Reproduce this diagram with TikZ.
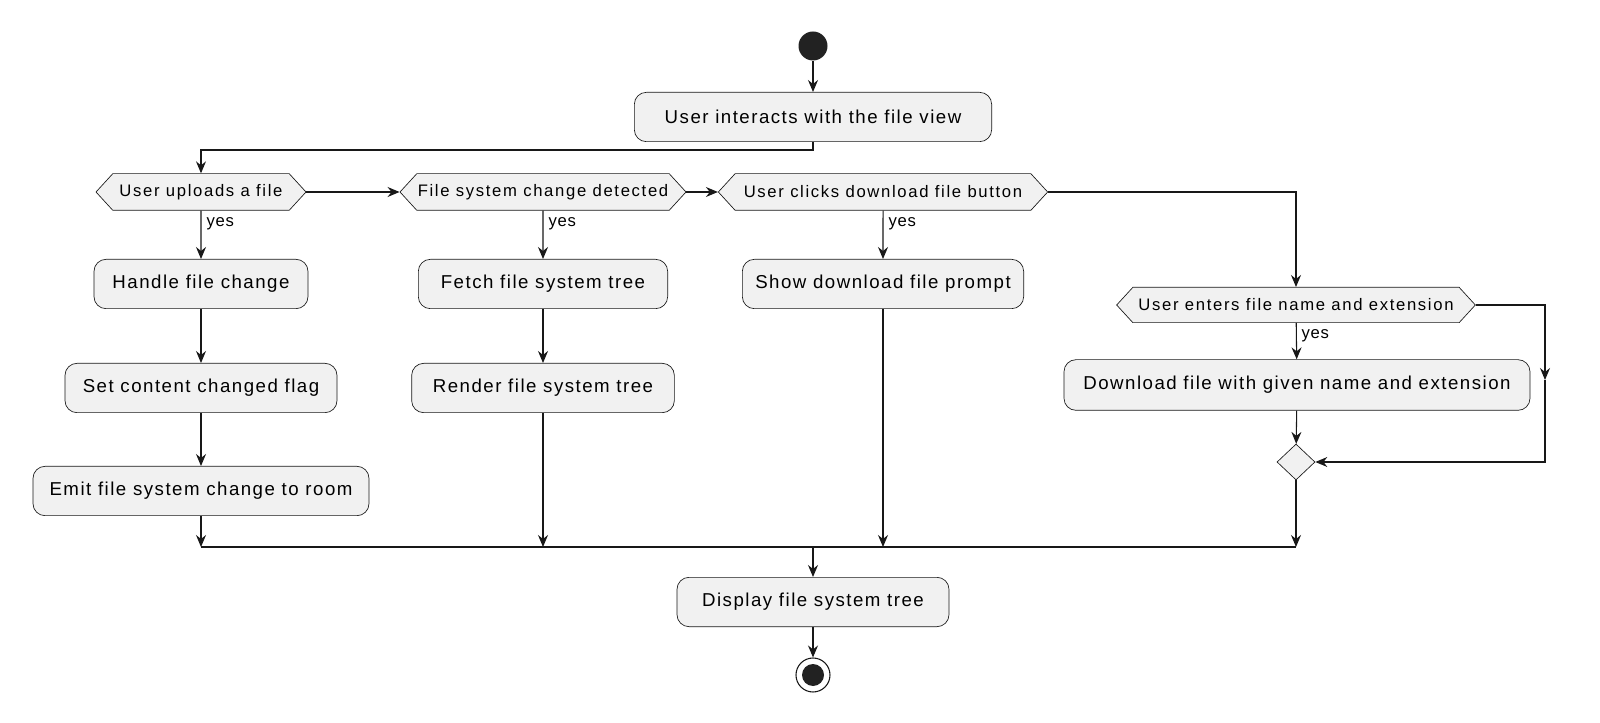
\documentclass[tikz,border=0pt]{standalone}
\usepackage{fontspec}
\setmainfont{Liberation Sans}[LetterSpace=4]
\newfontfamily\actfont{Liberation Sans}[LetterSpace=8]
\newfontfamily\choicefont{Liberation Sans}[LetterSpace=10]
\usetikzlibrary{arrows.meta,shapes.symbols,shapes.geometric}
\definecolor{actfill}{HTML}{F1F1F1}
\definecolor{actline}{HTML}{181818}
\definecolor{dotfill}{HTML}{222222}

\begin{document}
\begin{tikzpicture}[x=0.75pt,y=0.75pt,
  act/.style={draw=actline, line width=0.5pt, fill=actfill, rounded corners=9pt,
    minimum height=37pt, inner sep=0pt, font=\actfont\fontsize{14}{16}\selectfont},
  choice/.style={draw=actline, line width=0.5pt, fill=actfill, signal,
    signal to=west and east, signal pointer angle=95, minimum height=27.5pt,
    inner sep=0pt, font=\choicefont\fontsize{12.5}{14}\selectfont},
  merge/.style={draw=actline, line width=0.5pt, fill=actfill, diamond, aspect=1,
    inner sep=0pt, minimum width=28.5pt, minimum height=27pt},
  flow/.style={draw=actline, line width=0.8pt, -{Stealth[length=9pt,width=7.5pt,inset=3pt]}},
  wire/.style={draw=actline, line width=0.8pt},
  lbl/.style={font=\fontsize{12.5}{14}\selectfont, anchor=north west, inner sep=0pt}
]
\useasboundingbox (0,0) rectangle (1600,-723);
% start and first action
\node [circle, fill=dotfill, inner sep=0pt, minimum size=21.75pt] (start) at (813,-46) {};
\node [act, minimum width=268pt] (n0) at (813,-117) {User interacts with the file view};
% the three checks in a row
\node [choice, minimum width=157.5pt] (d1) at (201,-192) {User uploads a file};
\node [choice, minimum width=214.5pt] (d2) at (543,-192) {File system change detected};
\node [choice, minimum width=247pt] (d3) at (883,-192) {User clicks download file button};
\node [choice, minimum width=269pt, minimum height=26.5pt] (d4) at (1296,-305) {User enters file name and extension};
% branch actions
\node [act, minimum width=160.5pt] (a1) at (201,-284) {Handle file change};
\node [act, minimum width=204pt] (a2) at (201,-388) {Set content changed flag};
\node [act, minimum width=252pt] (a3) at (201,-491) {Emit file system change to room};
\node [act, minimum width=187pt] (b1) at (543,-284) {Fetch file system tree};
\node [act, minimum width=197pt] (b2) at (543,-388) {Render file system tree};
\node [act, minimum width=211pt] (c1) at (883,-284) {Show download file prompt};
\node [act, minimum width=349.5pt, minimum height=38pt] (e1) at (1297,-385) {Download file with given name and extension};
\node [merge] (m) at (1296,-462) {};
% end
\node [act, minimum width=204pt] (f) at (813,-602) {Display file system tree};
\node [circle, draw=actline, line width=0.8pt, fill=white, inner sep=0pt, minimum size=25.5pt] (stop) at (813,-675) {};
\fill [dotfill] (stop.center) circle (8.25pt);
% helper points
\coordinate (split) at (813,-150);
\coordinate (r1) at (1545,-305);
\coordinate (r2) at (1545,-380);
\coordinate (r3) at (1545,-462);
\coordinate (j1) at (201,-547);
\coordinate (j4) at (1296,-547);
\coordinate (jc) at (813,-547);
% connectors
\draw [flow] (start) -- (n0);
\draw [flow] (n0.south) -- (split) -| (d1.north);
\draw [flow] (d1.east) -- (d2.west);
\draw [flow] (d2.east) -- (d3.west);
\draw [flow] (d3.east) -| (d4.north);
\draw [flow] (d1) -- (a1);
\draw [flow] (a1) -- (a2);
\draw [flow] (a2) -- (a3);
\draw [flow] (d2) -- (b1);
\draw [flow] (b1) -- (b2);
\draw [flow] (d3) -- (c1);
\draw [flow] (d4) -- (e1);
\draw [flow] (e1) -- (m);
\draw [flow] (d4.east) -- (r1) -- (r2);
\draw [flow] (r2) -- (r3) -- (m.east);
\draw [flow] (a3.south) -- (a3.south |- j1);
\draw [flow] (b2.south) -- (b2.south |- j1);
\draw [flow] (c1.south) -- (c1.south |- j1);
\draw [flow] (m.south) -- (j4);
\draw [wire, line width=1.4pt] (j1) -- (j4);
\draw [flow] (jc) -- (f);
\draw [flow] (f) -- (stop);
% yes labels
\node [lbl] at ([xshift=4pt,yshift=-5pt]d1.south) {yes};
\node [lbl] at ([xshift=4pt,yshift=-5pt]d2.south) {yes};
\node [lbl] at ([xshift=4pt,yshift=-5pt]d3.south) {yes};
\node [lbl] at ([xshift=4pt,yshift=-5pt]d4.south) {yes};
\end{tikzpicture}
\end{document}
